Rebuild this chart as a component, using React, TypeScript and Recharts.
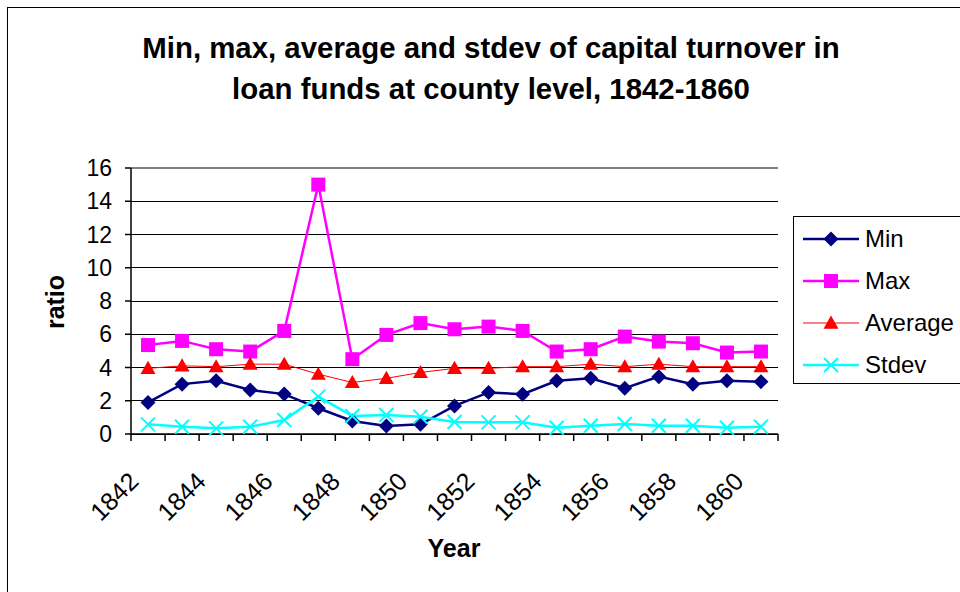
import { LineChart, Line, XAxis, YAxis, CartesianGrid, ReferenceLine } from "recharts";

const years = [
  1842, 1843, 1844, 1845, 1846, 1847, 1848, 1849, 1850, 1851, 1852, 1853,
  1854, 1855, 1856, 1857, 1858, 1859, 1860,
];
const minValues = [
  1.9, 3.0, 3.2, 2.65, 2.4, 1.55, 0.78, 0.48, 0.58, 1.69, 2.5, 2.39, 3.2,
  3.35, 2.75, 3.45, 3.0, 3.2, 3.15,
];
const maxValues = [
  5.35, 5.6, 5.1, 4.96, 6.2, 15.0, 4.5, 5.96, 6.67, 6.3, 6.46, 6.2, 4.96, 5.1,
  5.86, 5.56, 5.46, 4.9, 4.96,
];
const avgValues = [
  3.95, 4.1, 4.05, 4.2, 4.2, 3.6, 3.1, 3.35, 3.7, 3.95, 3.95, 4.05, 4.05, 4.2,
  4.05, 4.2, 4.05, 4.05, 4.05,
];
const stdevValues = [
  0.58, 0.44, 0.34, 0.44, 0.84, 2.25, 1.08, 1.14, 1.04, 0.72, 0.7, 0.7, 0.38,
  0.5, 0.6, 0.5, 0.5, 0.38, 0.44,
];
const yTicks = [0, 2, 4, 6, 8, 10, 12, 14, 16];

const data = years.map((year, i) => ({
  year,
  min: minValues[i],
  max: maxValues[i],
  avg: avgValues[i],
  stdev: stdevValues[i],
}));

// category boundaries, Excel puts tick marks between years
const boundaries = [...years.map((y) => y - 0.5), years[years.length - 1] + 0.5];

const FONT = '"Liberation Sans", Arial, sans-serif';
const W = 960;
const H = 592;
const MARGIN = { top: 168, right: 182, bottom: 98, left: 51 };
const Y_AXIS_W = 80;
const BAND = (W - MARGIN.left - Y_AXIS_W - MARGIN.right) / years.length;

const NAVY = "#000080";
const MAGENTA = "#FF00FF";
const RED = "#FF0000";
const CYAN = "#00FFFF";

function Diamond({ cx, cy, r = 7.5, color }: { cx: number; cy: number; r?: number; color: string }) {
  return <path d={`M${cx},${cy - r}L${cx + r},${cy}L${cx},${cy + r}L${cx - r},${cy}Z`} fill={color} />;
}
function Square({ cx, cy, r = 7, color }: { cx: number; cy: number; r?: number; color: string }) {
  return <rect x={cx - r} y={cy - r} width={r * 2} height={r * 2} fill={color} />;
}
function Triangle({ cx, cy, r = 7.5, color }: { cx: number; cy: number; r?: number; color: string }) {
  return <path d={`M${cx},${cy - r}L${cx + r},${cy + r * 0.75}L${cx - r},${cy + r * 0.75}Z`} fill={color} />;
}
function Cross({ cx, cy, r = 7, color }: { cx: number; cy: number; r?: number; color: string }) {
  return (
    <path
      d={`M${cx - r},${cy - r}L${cx + r},${cy + r}M${cx + r},${cy - r}L${cx - r},${cy + r}`}
      stroke={color}
      strokeWidth={2}
      fill="none"
    />
  );
}

const MARKERS: Record<string, (p: { cx: number; cy: number; color: string }) => JSX.Element> = {
  min: Diamond,
  max: Square,
  avg: Triangle,
  stdev: Cross,
};

function dotFor(kind: string, color: string) {
  const Marker = MARKERS[kind];
  return (p: any) => (
    <g key={`${kind}-${p.index}`}>
      <Marker cx={p.cx} cy={p.cy} color={color} />
    </g>
  );
}

function YearTick({ x, y, payload }: { x?: number; y?: number; payload?: { value: number } }) {
  if (!payload || x == null || y == null) return null;
  const year = payload.value + 0.5;
  const first = years[0];
  const last = years[years.length - 1];
  if (year % 2 !== 0 || year > last) return null;
  // Excel squeezes the labels a little, so they drift left toward the end
  const shift = -8 - ((year - first) / (last - first)) * 8;
  const ax = x + BAND / 2 + shift;
  const ay = y + 40;
  return (
    <text
      x={ax}
      y={ay}
      textAnchor="end"
      fontSize={25}
      fontFamily={FONT}
      fill="#000"
      transform={`rotate(-45, ${ax}, ${ay})`}
    >
      {year}
    </text>
  );
}

const legendItems = [
  { key: "min", name: "Min", color: NAVY, width: 2.5 },
  { key: "max", name: "Max", color: MAGENTA, width: 2.5 },
  { key: "avg", name: "Average", color: RED, width: 1 },
  { key: "stdev", name: "Stdev", color: CYAN, width: 2.5 },
];

export default function App() {
  return (
    <div
      style={{
        position: "absolute",
        left: 0,
        top: 0,
        width: W,
        height: H,
        overflow: "hidden",
        background: "#fff",
        fontFamily: FONT,
      }}
    >
      {/* chart area border, cut off at right and bottom */}
      <div
        style={{
          position: "absolute",
          left: 7,
          top: 7,
          width: 1000,
          height: 1000,
          border: "1px solid #000",
          boxSizing: "border-box",
        }}
      />

      <div
        style={{
          position: "absolute",
          left: 91,
          top: 27,
          width: 800,
          textAlign: "center",
          fontSize: 29.4,
          fontWeight: "bold",
          lineHeight: "41px",
          color: "#000",
        }}
      >
        Min, max, average and stdev of capital turnover in
        <br />
        loan funds at county level, 1842-1860
      </div>

      <div style={{ position: "absolute", left: 0, top: 0 }}>
        <LineChart width={W} height={H} data={data} margin={MARGIN}>
          <CartesianGrid vertical={false} stroke="#000" strokeWidth={1} shapeRendering="crispEdges" />
          <ReferenceLine y={16} stroke="#808080" strokeWidth={2} />
          <XAxis
            dataKey="year"
            type="number"
            domain={[boundaries[0], boundaries[boundaries.length - 1]]}
            ticks={boundaries}
            interval={0}
            height={60}
            stroke="#000"
            strokeWidth={1.5}
            tickSize={7}
            tick={<YearTick />}
          />
          <YAxis
            domain={[0, 16]}
            ticks={yTicks}
            width={Y_AXIS_W}
            stroke="#000"
            strokeWidth={1.5}
            tickSize={6}
            tickMargin={13}
            tick={{ fill: "#000", fontSize: 23, fontFamily: FONT }}
          />
          <YAxis
            yAxisId="right"
            orientation="right"
            domain={[0, 16]}
            width={0}
            tick={false}
            tickLine={false}
            axisLine={{ stroke: "#808080", strokeWidth: 2 }}
          />
          <Line
            dataKey="min"
            stroke={NAVY}
            strokeWidth={2.5}
            dot={dotFor("min", NAVY)}
            activeDot={false}
            isAnimationActive={false}
          />
          <Line
            dataKey="max"
            stroke={MAGENTA}
            strokeWidth={2.5}
            dot={dotFor("max", MAGENTA)}
            activeDot={false}
            isAnimationActive={false}
          />
          <Line
            dataKey="avg"
            stroke={RED}
            strokeWidth={1}
            dot={dotFor("avg", RED)}
            activeDot={false}
            isAnimationActive={false}
          />
          <Line
            dataKey="stdev"
            stroke={CYAN}
            strokeWidth={2.5}
            dot={dotFor("stdev", CYAN)}
            activeDot={false}
            isAnimationActive={false}
          />
        </LineChart>
      </div>

      <div
        style={{
          position: "absolute",
          left: 55,
          top: 302,
          transform: "translate(-50%, -50%) rotate(-90deg)",
          fontSize: 25,
          fontWeight: "bold",
          whiteSpace: "nowrap",
        }}
      >
        ratio
      </div>
      <div
        style={{
          position: "absolute",
          left: 454,
          top: 548,
          transform: "translate(-50%, -50%)",
          fontSize: 25,
          fontWeight: "bold",
        }}
      >
        Year
      </div>

      {/* legend */}
      <div
        style={{
          position: "absolute",
          left: 793,
          top: 216,
          width: 200,
          height: 168,
          border: "1px solid #000",
          boxSizing: "border-box",
          background: "#fff",
        }}
      >
        {legendItems.map((item, i) => {
          const Marker = MARKERS[item.key];
          return (
            <div
              key={item.key}
              style={{
                position: "absolute",
                left: 9,
                top: 22 + i * 42 - 14,
                height: 28,
                display: "flex",
                alignItems: "center",
              }}
            >
              <svg width={56} height={28}>
                <line x1={0} y1={14} x2={56} y2={14} stroke={item.color} strokeWidth={item.width} />
                <Marker cx={28} cy={14} color={item.color} />
              </svg>
              <span style={{ marginLeft: 6, fontSize: 24, lineHeight: "28px" }}>{item.name}</span>
            </div>
          );
        })}
      </div>
    </div>
  );
}
